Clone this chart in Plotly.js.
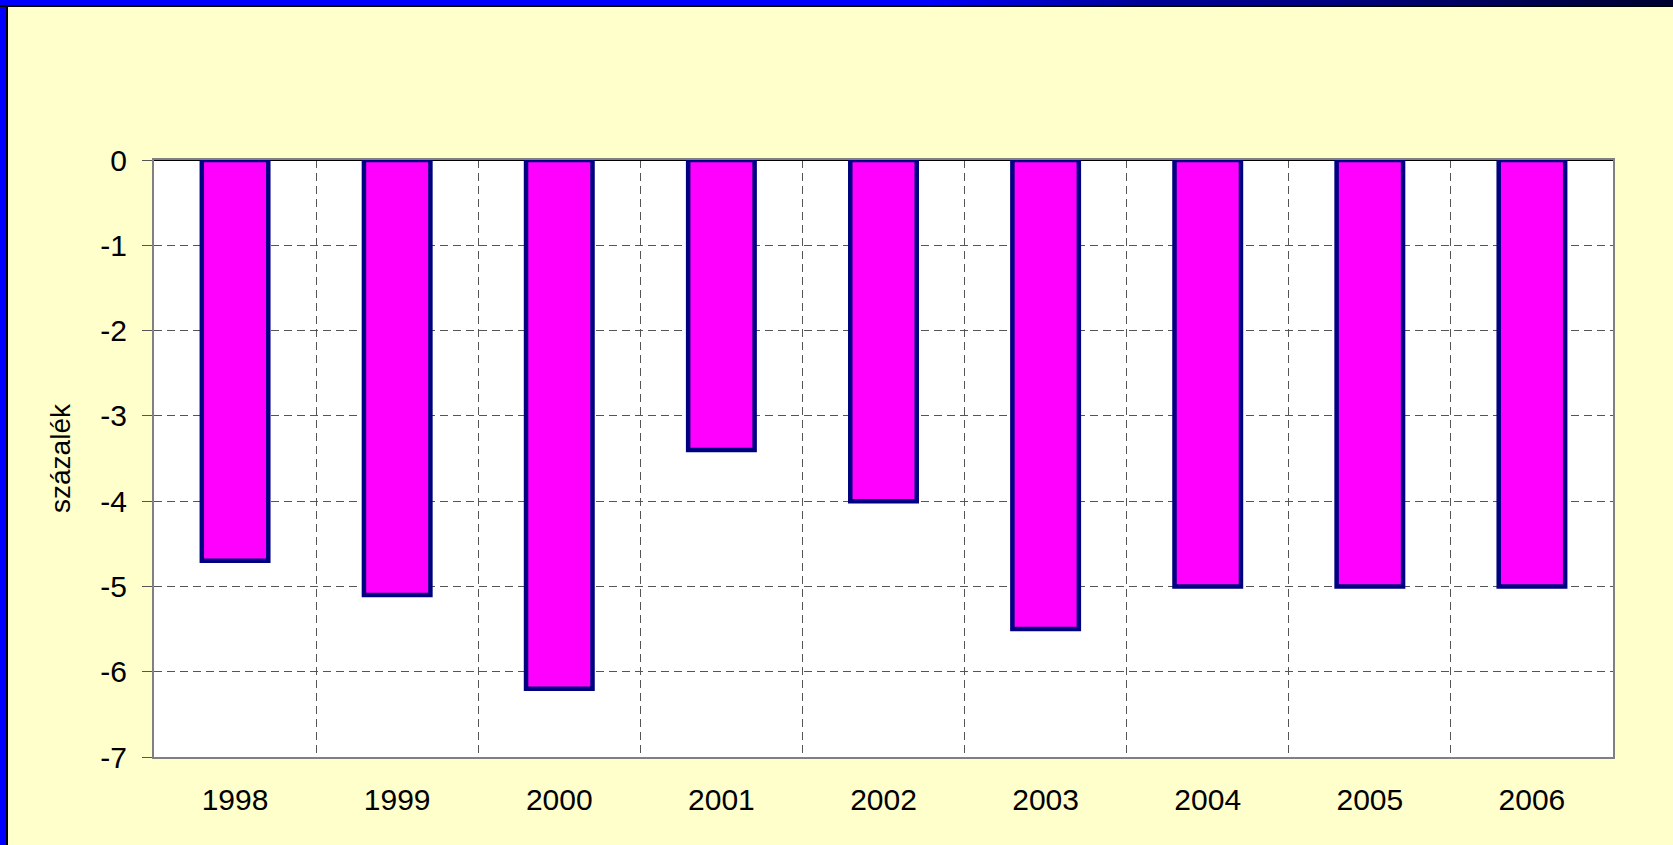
<!DOCTYPE html>
<html>
<head>
<meta charset="utf-8">
<script src="https://cdn.plot.ly/plotly-3.0.1.min.js"></script>
<style>
  html, body { margin: 0; padding: 0; background: #FFFFCC; }
  #wrap { position: relative; width: 1673px; height: 845px; overflow: hidden; }
  #chart { position: absolute; left: 0; top: 0; width: 1673px; height: 845px; }
  #bleft { position: absolute; left: 0; top: 0; width: 6px; height: 845px; background: #0000FF; border-right: 2px solid #000; pointer-events: none; }
  #btop { position: absolute; left: 0; top: 0; width: 1673px; height: 5px;
          background: linear-gradient(to right, #0000FF 0%, #0000FF 55%, #000099 68%, #000080 80%, #000030 100%);
          border-bottom: 2px solid #000; pointer-events: none; }
</style>
</head>
<body>
<div id="wrap">
  <div id="chart"></div>
  <div id="bleft"></div>
  <div id="btop"></div>
</div>
<script>
const years = ["1998", "1999", "2000", "2001", "2002", "2003", "2004", "2005", "2006"];
const values = [-4.7, -5.1, -6.2, -3.4, -4.0, -5.5, -5.0, -5.0, -5.0];
const yTicks = [0, -1, -2, -3, -4, -5, -6, -7];
const yTitle = "százalék";

const font = { family: "Liberation Sans, Arial, sans-serif", size: 30, color: "#000000" };

const trace = {
  type: "bar",
  x: years,
  y: values,
  marker: { color: "#FF00FF", line: { color: "#000080", width: 4.5 } },
  hoverinfo: "x+y"
};

const layout = {
  width: 1673,
  height: 845,
  paper_bgcolor: "#FFFFCC",
  plot_bgcolor: "#FFFFFF",
  margin: { l: 154, r: 60, t: 160, b: 88 },
  showlegend: false,
  bargap: 0.59,
  font: font,
  xaxis: {
    type: "category",
    tickson: "boundaries",
    ticks: "",
    showgrid: true,
    gridcolor: "#555555",
    gridwidth: 1,
    griddash: "8px,5px",
    showline: true,
    linecolor: "#808080",
    linewidth: 2,
    mirror: true,
    tickfont: font,
    ticklabelstandoff: 15,
    automargin: false
  },
  yaxis: {
    range: [-7, 0],
    tickvals: yTicks,
    ticktext: yTicks.map(String),
    ticks: "outside",
    ticklen: 10,
    tickcolor: "#555555",
    tickwidth: 1,
    showgrid: true,
    gridcolor: "#555555",
    gridwidth: 1,
    griddash: "8px,5px",
    showline: true,
    linecolor: "#808080",
    linewidth: 2,
    mirror: true,
    zeroline: true,
    zerolinecolor: "#000000",
    zerolinewidth: 1.5,
    tickfont: font,
    ticklabelstandoff: 9,
    automargin: false,
    title: { text: yTitle, font: { family: font.family, size: 28, color: "#000" }, standoff: 22 }
  }
};

Plotly.newPlot("chart", [trace], layout, { displayModeBar: false, staticPlot: true });
</script>
</body>
</html>
